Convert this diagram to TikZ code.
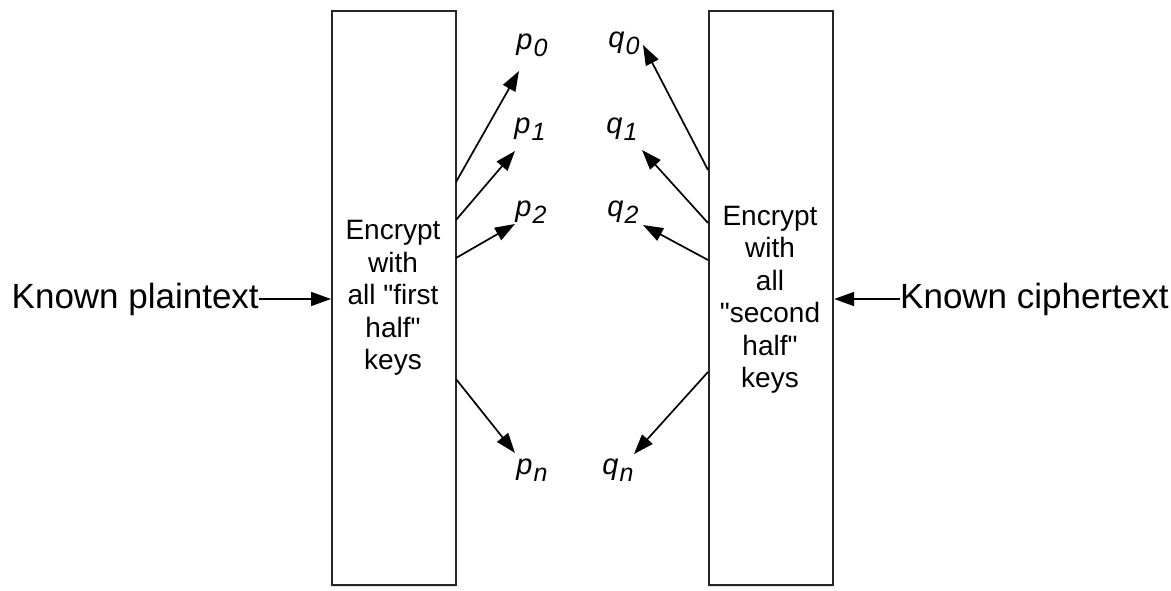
\documentclass[tikz,border=0pt]{standalone}
\usepackage{fontspec}
\setmainfont{Liberation Sans}[Ligatures=TeXOff]
\usetikzlibrary{arrows.meta,shadows}
\begin{document}
\begin{tikzpicture}[x=1pt,y=-1pt,
  encbox/.style={draw=black!85,line width=2.2pt,fill=white,minimum width=124pt,minimum height=574pt,anchor=north west,inner sep=0pt,
    drop shadow={shadow xshift=0pt,shadow yshift=-2pt,opacity=0.25}},
  boxtext/.style={align=center,font=\fontsize{28}{32.5}\selectfont},
  outer/.style={font=\fontsize{35}{38}\selectfont,inner sep=0pt},
  lbl/.style={font=\fontsize{29}{30}\selectfont\itshape,inner sep=0pt},
  arr/.style={line width=1.7pt,-{Triangle[length=20pt,width=14pt]}}]
\useasboundingbox[fill=white] (0,0) rectangle (1171,590);
\node[encbox] (L) at (331,10) {};
\node[encbox] (R) at (708,10) {};
\node[boxtext] (Lt) at (393,298) {Encrypt\\with\\all "first\\half"\\keys};
\node[boxtext] (Rt) at (770,300) {Encrypt\\with\\all\\"second\\half"\\keys};
\node[outer,anchor=east] (kp) at (259,299) {Known plaintext};
\node[outer,anchor=west] (kc) at (900,299) {Known ciphertext};
\draw[arr] (kp.east) -- (L.west |- kp.east);
\draw[arr] (kc.west) -- (R.east |- kc.west);
\newcommand{\pl}[2]{#1\kern1pt\raisebox{-7pt}{\fontsize{25}{26}\selectfont #2}}
\node[lbl] (p0) at (532,45) {\pl{p}{0}};
\node[lbl] (p1) at (530,129) {\pl{p}{1}};
\node[lbl] (p2) at (531,212) {\pl{p}{2}};
\node[lbl] (pn) at (532,470) {\pl{p}{n}};
\node[lbl] (q0) at (624,43) {\pl{q}{0}};
\node[lbl] (q1) at (622,129) {\pl{q}{1}};
\node[lbl] (q2) at (623,212) {\pl{q}{2}};
\node[lbl] (qn) at (618,470) {\pl{q}{n}};
\coordinate (a0) at (456,182); \coordinate (t0) at (519,71);
\coordinate (a1) at (456,220); \coordinate (t1) at (515,151);
\coordinate (a2) at (456,258); \coordinate (t2) at (515,224);
\coordinate (an) at (456,379); \coordinate (tn) at (515,453);
\coordinate (b0) at (708,170); \coordinate (u0) at (643,45);
\coordinate (b1) at (708,223); \coordinate (u1) at (642,150);
\coordinate (b2) at (708,260); \coordinate (u2) at (643,225);
\coordinate (bn) at (708,372); \coordinate (un) at (634,454);
\draw[arr] (a0) -- (t0);
\draw[arr] (a1) -- (t1);
\draw[arr] (a2) -- (t2);
\draw[arr] (an) -- (tn);
\draw[arr] (b0) -- (u0);
\draw[arr] (b1) -- (u1);
\draw[arr] (b2) -- (u2);
\draw[arr] (bn) -- (un);
\end{tikzpicture}
\end{document}
